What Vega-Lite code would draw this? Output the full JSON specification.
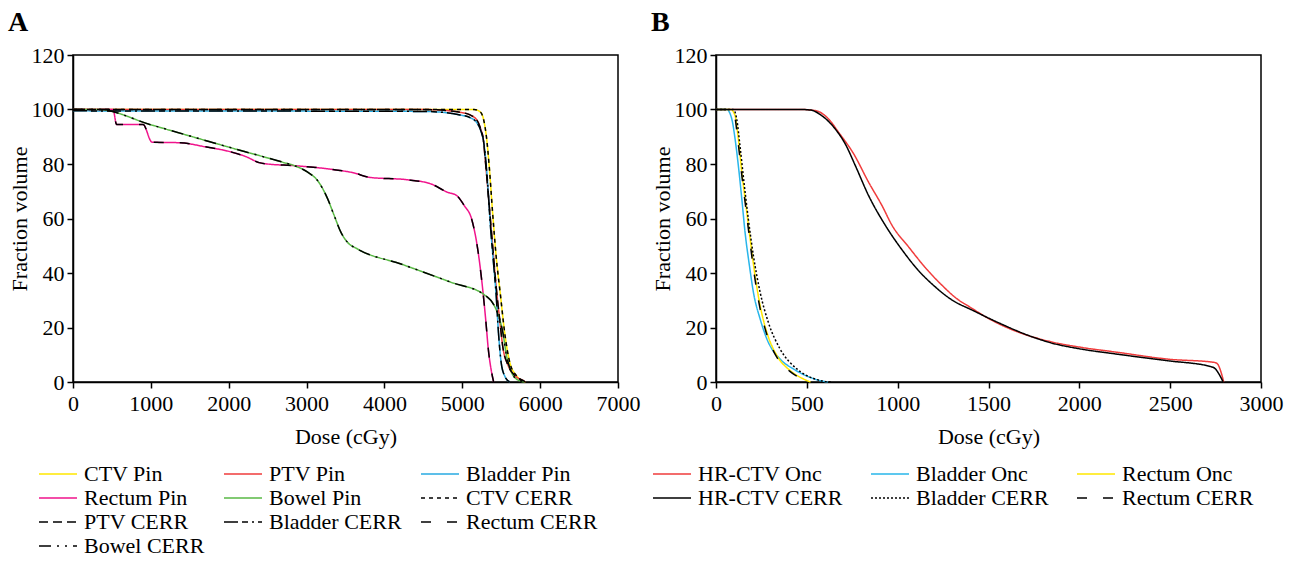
{
"$schema": "https://vega.github.io/schema/vega-lite/v6.json",
"padding": {"left": 7, "top": 8, "right": 5, "bottom": 0},
"background": "white",
"spacing": 9,
"config": {
  "font": "Liberation Serif",
  "view": {"stroke": "#000", "strokeWidth": 1.5},
  "axis": {"grid": false, "domainColor": "#000", "domainWidth": 1.5, "tickColor": "#000", "tickWidth": 1.5, "tickSize": 6, "format": "d", "labelFlush": false,
    "labelFont": "Liberation Serif", "labelFontSize": 22, "labelColor": "#000",
    "titleFont": "Liberation Serif", "titleFontSize": 22, "titleFontWeight": "normal", "titleColor": "#000"},
  "axisX": {"titlePadding": 12, "labelPadding": 5},
  "axisY": {"titlePadding": 0, "labelPadding": 3},
  "title": {"font": "Liberation Serif", "fontSize": 28, "fontWeight": "bold", "color": "#000", "anchor": "start", "frame": "bounds", "offset": 7},
  "line": {"strokeWidth": 1.5, "interpolate": "monotone"}
},
"resolve": {"scale": {"color": "independent", "strokeDash": "independent"}, "legend": {"color": "independent", "strokeDash": "independent"}},
"hconcat": [
{
  "width": 545, "height": 327,
  "title": {"text": "A"},
  "data": {"values": [
{"s":"CTV Pin","d":0,"v":100},{"s":"CTV Pin","d":5050,"v":100},{"s":"CTV Pin","d":5150,"v":100},{"s":"CTV Pin","d":5235,"v":99},{"s":"CTV Pin","d":5280,"v":95.5},{"s":"CTV Pin","d":5310,"v":90},{"s":"CTV Pin","d":5345,"v":79.5},{"s":"CTV Pin","d":5389,"v":62.3},{"s":"CTV Pin","d":5434,"v":46.4},{"s":"CTV Pin","d":5491,"v":31.7},{"s":"CTV Pin","d":5544,"v":18.2},{"s":"CTV Pin","d":5611,"v":7.1},{"s":"CTV Pin","d":5699,"v":2.2},{"s":"CTV Pin","d":5810,"v":0},
{"s":"CTV CERR","d":0,"v":100},{"s":"CTV CERR","d":5050,"v":100},{"s":"CTV CERR","d":5150,"v":100},{"s":"CTV CERR","d":5235,"v":99},{"s":"CTV CERR","d":5280,"v":95.5},{"s":"CTV CERR","d":5310,"v":90},{"s":"CTV CERR","d":5345,"v":79.5},{"s":"CTV CERR","d":5389,"v":62.3},{"s":"CTV CERR","d":5434,"v":46.4},{"s":"CTV CERR","d":5491,"v":31.7},{"s":"CTV CERR","d":5544,"v":18.2},{"s":"CTV CERR","d":5611,"v":7.1},{"s":"CTV CERR","d":5699,"v":2.2},{"s":"CTV CERR","d":5810,"v":0},
{"s":"PTV Pin","d":0,"v":100},{"s":"PTV Pin","d":4500,"v":100},{"s":"PTV Pin","d":4800,"v":99.6},{"s":"PTV Pin","d":4970,"v":99},{"s":"PTV Pin","d":5100,"v":98},{"s":"PTV Pin","d":5190,"v":96},{"s":"PTV Pin","d":5235,"v":93},{"s":"PTV Pin","d":5270,"v":89},{"s":"PTV Pin","d":5300,"v":80},{"s":"PTV Pin","d":5345,"v":65},{"s":"PTV Pin","d":5390,"v":50},{"s":"PTV Pin","d":5435,"v":35},{"s":"PTV Pin","d":5480,"v":23},{"s":"PTV Pin","d":5520,"v":13},{"s":"PTV Pin","d":5590,"v":6},{"s":"PTV Pin","d":5680,"v":2.2},{"s":"PTV Pin","d":5790,"v":0.4},{"s":"PTV Pin","d":5810,"v":0},
{"s":"PTV CERR","d":0,"v":100},{"s":"PTV CERR","d":4500,"v":100},{"s":"PTV CERR","d":4800,"v":99.6},{"s":"PTV CERR","d":4970,"v":99},{"s":"PTV CERR","d":5100,"v":98},{"s":"PTV CERR","d":5190,"v":96},{"s":"PTV CERR","d":5235,"v":93},{"s":"PTV CERR","d":5270,"v":89},{"s":"PTV CERR","d":5300,"v":80},{"s":"PTV CERR","d":5345,"v":65},{"s":"PTV CERR","d":5390,"v":50},{"s":"PTV CERR","d":5435,"v":35},{"s":"PTV CERR","d":5480,"v":23},{"s":"PTV CERR","d":5520,"v":13},{"s":"PTV CERR","d":5590,"v":6},{"s":"PTV CERR","d":5680,"v":2.2},{"s":"PTV CERR","d":5790,"v":0.4},{"s":"PTV CERR","d":5810,"v":0},
{"s":"Bladder Pin","d":0,"v":99.5},{"s":"Bladder Pin","d":4500,"v":99.3},{"s":"Bladder Pin","d":4800,"v":98.8},{"s":"Bladder Pin","d":4970,"v":98},{"s":"Bladder Pin","d":5100,"v":97},{"s":"Bladder Pin","d":5190,"v":95},{"s":"Bladder Pin","d":5235,"v":92.5},{"s":"Bladder Pin","d":5280,"v":87},{"s":"Bladder Pin","d":5320,"v":75},{"s":"Bladder Pin","d":5365,"v":56},{"s":"Bladder Pin","d":5400,"v":44},{"s":"Bladder Pin","d":5435,"v":32},{"s":"Bladder Pin","d":5465,"v":18},{"s":"Bladder Pin","d":5500,"v":7},{"s":"Bladder Pin","d":5545,"v":2.2},{"s":"Bladder Pin","d":5610,"v":0},
{"s":"Bladder CERR","d":0,"v":99.5},{"s":"Bladder CERR","d":4500,"v":99.3},{"s":"Bladder CERR","d":4800,"v":98.8},{"s":"Bladder CERR","d":4970,"v":98},{"s":"Bladder CERR","d":5100,"v":97},{"s":"Bladder CERR","d":5190,"v":95},{"s":"Bladder CERR","d":5235,"v":92.5},{"s":"Bladder CERR","d":5280,"v":87},{"s":"Bladder CERR","d":5320,"v":75},{"s":"Bladder CERR","d":5365,"v":56},{"s":"Bladder CERR","d":5400,"v":44},{"s":"Bladder CERR","d":5435,"v":32},{"s":"Bladder CERR","d":5465,"v":18},{"s":"Bladder CERR","d":5500,"v":7},{"s":"Bladder CERR","d":5545,"v":2.2},{"s":"Bladder CERR","d":5610,"v":0},
{"s":"Rectum Pin","d":0,"v":100},{"s":"Rectum Pin","d":514,"v":100},{"s":"Rectum Pin","d":560,"v":94.5},{"s":"Rectum Pin","d":900,"v":94.5},{"s":"Rectum Pin","d":1015,"v":88},{"s":"Rectum Pin","d":1375,"v":87.8},{"s":"Rectum Pin","d":1700,"v":86.3},{"s":"Rectum Pin","d":2020,"v":84.5},{"s":"Rectum Pin","d":2230,"v":82.6},{"s":"Rectum Pin","d":2390,"v":80.5},{"s":"Rectum Pin","d":2500,"v":80},{"s":"Rectum Pin","d":2842,"v":79.4},{"s":"Rectum Pin","d":3356,"v":77.9},{"s":"Rectum Pin","d":3613,"v":76.7},{"s":"Rectum Pin","d":3806,"v":75.1},{"s":"Rectum Pin","d":4298,"v":74.2},{"s":"Rectum Pin","d":4598,"v":72.7},{"s":"Rectum Pin","d":4812,"v":69.6},{"s":"Rectum Pin","d":4919,"v":68.6},{"s":"Rectum Pin","d":5026,"v":64.7},{"s":"Rectum Pin","d":5120,"v":59.8},{"s":"Rectum Pin","d":5198,"v":48.8},{"s":"Rectum Pin","d":5262,"v":34.1},{"s":"Rectum Pin","d":5304,"v":21.9},{"s":"Rectum Pin","d":5334,"v":12.1},{"s":"Rectum Pin","d":5369,"v":4.8},{"s":"Rectum Pin","d":5403,"v":0},
{"s":"Rectum CERR","d":0,"v":100},{"s":"Rectum CERR","d":514,"v":100},{"s":"Rectum CERR","d":560,"v":94.5},{"s":"Rectum CERR","d":900,"v":94.5},{"s":"Rectum CERR","d":1015,"v":88},{"s":"Rectum CERR","d":1375,"v":87.8},{"s":"Rectum CERR","d":1700,"v":86.3},{"s":"Rectum CERR","d":2020,"v":84.5},{"s":"Rectum CERR","d":2230,"v":82.6},{"s":"Rectum CERR","d":2390,"v":80.5},{"s":"Rectum CERR","d":2500,"v":80},{"s":"Rectum CERR","d":2842,"v":79.4},{"s":"Rectum CERR","d":3356,"v":77.9},{"s":"Rectum CERR","d":3613,"v":76.7},{"s":"Rectum CERR","d":3806,"v":75.1},{"s":"Rectum CERR","d":4298,"v":74.2},{"s":"Rectum CERR","d":4598,"v":72.7},{"s":"Rectum CERR","d":4812,"v":69.6},{"s":"Rectum CERR","d":4919,"v":68.6},{"s":"Rectum CERR","d":5026,"v":64.7},{"s":"Rectum CERR","d":5120,"v":59.8},{"s":"Rectum CERR","d":5198,"v":48.8},{"s":"Rectum CERR","d":5262,"v":34.1},{"s":"Rectum CERR","d":5304,"v":21.9},{"s":"Rectum CERR","d":5334,"v":12.1},{"s":"Rectum CERR","d":5369,"v":4.8},{"s":"Rectum CERR","d":5403,"v":0},
{"s":"Bowel Pin","d":0,"v":100},{"s":"Bowel Pin","d":320,"v":100},{"s":"Bowel Pin","d":1000,"v":94.4},{"s":"Bowel Pin","d":2000,"v":86.2},{"s":"Bowel Pin","d":2700,"v":80.6},{"s":"Bowel Pin","d":2842,"v":79.4},{"s":"Bowel Pin","d":3014,"v":77},{"s":"Bowel Pin","d":3142,"v":73.9},{"s":"Bowel Pin","d":3271,"v":67.2},{"s":"Bowel Pin","d":3356,"v":61},{"s":"Bowel Pin","d":3442,"v":54.9},{"s":"Bowel Pin","d":3528,"v":51.2},{"s":"Bowel Pin","d":3656,"v":48.8},{"s":"Bowel Pin","d":4213,"v":43.3},{"s":"Bowel Pin","d":4855,"v":36.6},{"s":"Bowel Pin","d":5283,"v":32},{"s":"Bowel Pin","d":5411,"v":28},{"s":"Bowel Pin","d":5475,"v":23.5},{"s":"Bowel Pin","d":5522,"v":18},{"s":"Bowel Pin","d":5566,"v":10},{"s":"Bowel Pin","d":5633,"v":3.5},{"s":"Bowel Pin","d":5700,"v":1},{"s":"Bowel Pin","d":5800,"v":0},
{"s":"Bowel CERR","d":0,"v":100},{"s":"Bowel CERR","d":320,"v":100},{"s":"Bowel CERR","d":1000,"v":94.4},{"s":"Bowel CERR","d":2000,"v":86.2},{"s":"Bowel CERR","d":2700,"v":80.6},{"s":"Bowel CERR","d":2842,"v":79.4},{"s":"Bowel CERR","d":3014,"v":77},{"s":"Bowel CERR","d":3142,"v":73.9},{"s":"Bowel CERR","d":3271,"v":67.2},{"s":"Bowel CERR","d":3356,"v":61},{"s":"Bowel CERR","d":3442,"v":54.9},{"s":"Bowel CERR","d":3528,"v":51.2},{"s":"Bowel CERR","d":3656,"v":48.8},{"s":"Bowel CERR","d":4213,"v":43.3},{"s":"Bowel CERR","d":4855,"v":36.6},{"s":"Bowel CERR","d":5283,"v":32},{"s":"Bowel CERR","d":5411,"v":28},{"s":"Bowel CERR","d":5475,"v":23.5},{"s":"Bowel CERR","d":5522,"v":18},{"s":"Bowel CERR","d":5566,"v":10},{"s":"Bowel CERR","d":5633,"v":3.5},{"s":"Bowel CERR","d":5700,"v":1},{"s":"Bowel CERR","d":5800,"v":0}
  ]},
  "encoding": {
    "x": {"field": "d", "type": "quantitative", "scale": {"domain": [0, 7000], "nice": false}, "axis": {"values": [0,1000,2000,3000,4000,5000,6000,7000], "title": "Dose (cGy)"}},
    "y": {"field": "v", "type": "quantitative", "scale": {"domain": [0, 120], "nice": false}, "axis": {"values": [0,20,40,60,80,100,120], "title": "Fraction volume"}},
    "color": {"field": "s", "type": "nominal",
      "scale": {"domain": ["CTV Pin","PTV Pin","Bladder Pin","Rectum Pin","Bowel Pin","CTV CERR","PTV CERR","Bladder CERR","Rectum CERR","Bowel CERR"],
                "range": ["#ffe800","#f03c3c","#29aae2","#f0148c","#5ab946","#000000","#000000","#000000","#000000","#000000"]},
      "legend": {"orient": "none", "direction": "horizontal", "legendX": -26, "legendY": 408, "columns": 3, "title": null, "symbolType": "M-1.9,0H1.9", "symbolSize": 400, "symbolStrokeWidth": 2, "labelFont": "Liberation Serif", "labelFontSize": 22, "labelColor": "#000", "labelOffset": 15, "rowPadding": 2, "columnPadding": 16, "labelLimit": 300}},
    "strokeDash": {"field": "s", "type": "nominal",
      "scale": {"domain": ["CTV Pin","PTV Pin","Bladder Pin","Rectum Pin","Bowel Pin","CTV CERR","PTV CERR","Bladder CERR","Rectum CERR","Bowel CERR"],
                "range": [[1,0],[1,0],[1,0],[1,0],[1,0],[4,4],[9,5],[14,4,6,4,2,4],[10,16],[12,6,2,6,2,6]]},
      "legend": {"orient": "none", "direction": "horizontal", "legendX": -26, "legendY": 408, "columns": 3, "title": null, "symbolType": "M-1.9,0H1.9", "symbolSize": 400, "symbolStrokeWidth": 2, "labelFont": "Liberation Serif", "labelFontSize": 22, "labelColor": "#000", "labelOffset": 15, "rowPadding": 2, "columnPadding": 16, "labelLimit": 300}}
  },
  "layer": [
    {"transform": [{"filter": "indexof(datum.s, 'CERR') < 0"}], "mark": {"type": "line"}},
    {"transform": [{"filter": "indexof(datum.s, 'CERR') >= 0"}], "mark": {"type": "line"}}
  ]
},
{
  "width": 545, "height": 327,
  "title": {"text": "B"},
  "data": {"values": [
{"t":"HR-CTV Onc","d":0,"v":100},{"t":"HR-CTV Onc","d":470,"v":100},{"t":"HR-CTV Onc","d":547,"v":99.6},{"t":"HR-CTV Onc","d":620,"v":96.5},{"t":"HR-CTV Onc","d":675,"v":91.6},{"t":"HR-CTV Onc","d":758,"v":83.7},{"t":"HR-CTV Onc","d":840,"v":73.3},{"t":"HR-CTV Onc","d":914,"v":64.7},{"t":"HR-CTV Onc","d":969,"v":57.5},{"t":"HR-CTV Onc","d":1061,"v":49.5},{"t":"HR-CTV Onc","d":1152,"v":42},{"t":"HR-CTV Onc","d":1244,"v":35.5},{"t":"HR-CTV Onc","d":1327,"v":30.5},{"t":"HR-CTV Onc","d":1400,"v":27.4},{"t":"HR-CTV Onc","d":1514,"v":22.8},{"t":"HR-CTV Onc","d":1652,"v":18.6},{"t":"HR-CTV Onc","d":1842,"v":14.8},{"t":"HR-CTV Onc","d":2021,"v":12.6},{"t":"HR-CTV Onc","d":2210,"v":10.9},{"t":"HR-CTV Onc","d":2486,"v":8.4},{"t":"HR-CTV Onc","d":2743,"v":7.2},{"t":"HR-CTV Onc","d":2762,"v":6.5},{"t":"HR-CTV Onc","d":2780,"v":3.6},{"t":"HR-CTV Onc","d":2795,"v":0},
{"t":"HR-CTV CERR","d":0,"v":100},{"t":"HR-CTV CERR","d":470,"v":100},{"t":"HR-CTV CERR","d":520,"v":99.8},{"t":"HR-CTV CERR","d":583,"v":97.7},{"t":"HR-CTV CERR","d":657,"v":92.8},{"t":"HR-CTV CERR","d":712,"v":87.3},{"t":"HR-CTV CERR","d":767,"v":79.4},{"t":"HR-CTV CERR","d":840,"v":68.4},{"t":"HR-CTV CERR","d":932,"v":57.5},{"t":"HR-CTV CERR","d":1024,"v":48.5},{"t":"HR-CTV CERR","d":1116,"v":40.8},{"t":"HR-CTV CERR","d":1207,"v":34.9},{"t":"HR-CTV CERR","d":1290,"v":30.5},{"t":"HR-CTV CERR","d":1422,"v":26},{"t":"HR-CTV CERR","d":1560,"v":21.6},{"t":"HR-CTV CERR","d":1744,"v":16.5},{"t":"HR-CTV CERR","d":1842,"v":14.4},{"t":"HR-CTV CERR","d":2000,"v":12.2},{"t":"HR-CTV CERR","d":2210,"v":10.2},{"t":"HR-CTV CERR","d":2486,"v":7.8},{"t":"HR-CTV CERR","d":2721,"v":5.7},{"t":"HR-CTV CERR","d":2748,"v":4.9},{"t":"HR-CTV CERR","d":2767,"v":3.1},{"t":"HR-CTV CERR","d":2792,"v":0},
{"t":"Bladder Onc","d":0,"v":100},{"t":"Bladder Onc","d":59,"v":100},{"t":"Bladder Onc","d":87,"v":96.5},{"t":"Bladder Onc","d":105,"v":89.2},{"t":"Bladder Onc","d":123,"v":79.4},{"t":"Bladder Onc","d":142,"v":67.2},{"t":"Bladder Onc","d":160,"v":54.9},{"t":"Bladder Onc","d":184,"v":42.7},{"t":"Bladder Onc","d":206,"v":32.9},{"t":"Bladder Onc","d":243,"v":23.1},{"t":"Bladder Onc","d":280,"v":15.8},{"t":"Bladder Onc","d":353,"v":8.4},{"t":"Bladder Onc","d":426,"v":4.8},{"t":"Bladder Onc","d":518,"v":1.7},{"t":"Bladder Onc","d":574,"v":0.5},{"t":"Bladder Onc","d":615,"v":0},
{"t":"Bladder CERR","d":0,"v":100},{"t":"Bladder CERR","d":95,"v":100},{"t":"Bladder CERR","d":114,"v":96.5},{"t":"Bladder CERR","d":132,"v":86.7},{"t":"Bladder CERR","d":154,"v":73.3},{"t":"Bladder CERR","d":178,"v":59.8},{"t":"Bladder CERR","d":206,"v":46.3},{"t":"Bladder CERR","d":243,"v":32.9},{"t":"Bladder CERR","d":288,"v":21.9},{"t":"Bladder CERR","d":353,"v":12.1},{"t":"Bladder CERR","d":445,"v":4.8},{"t":"Bladder CERR","d":537,"v":1.3},{"t":"Bladder CERR","d":592,"v":0.3},{"t":"Bladder CERR","d":640,"v":0},
{"t":"Rectum Onc","d":0,"v":100},{"t":"Rectum Onc","d":81,"v":100},{"t":"Rectum Onc","d":105,"v":97.7},{"t":"Rectum Onc","d":123,"v":89.2},{"t":"Rectum Onc","d":142,"v":77},{"t":"Rectum Onc","d":165,"v":64.7},{"t":"Rectum Onc","d":188,"v":52.5},{"t":"Rectum Onc","d":215,"v":39},{"t":"Rectum Onc","d":243,"v":28},{"t":"Rectum Onc","d":280,"v":18.2},{"t":"Rectum Onc","d":335,"v":9.7},{"t":"Rectum Onc","d":408,"v":4.2},{"t":"Rectum Onc","d":482,"v":1.1},{"t":"Rectum Onc","d":520,"v":0},
{"t":"Rectum CERR","d":0,"v":100},{"t":"Rectum CERR","d":78,"v":100},{"t":"Rectum CERR","d":102,"v":97.7},{"t":"Rectum CERR","d":120,"v":89},{"t":"Rectum CERR","d":140,"v":77},{"t":"Rectum CERR","d":163,"v":64.5},{"t":"Rectum CERR","d":186,"v":52},{"t":"Rectum CERR","d":213,"v":38.5},{"t":"Rectum CERR","d":241,"v":27.5},{"t":"Rectum CERR","d":278,"v":17.8},{"t":"Rectum CERR","d":333,"v":9.3},{"t":"Rectum CERR","d":405,"v":4},{"t":"Rectum CERR","d":478,"v":1},{"t":"Rectum CERR","d":510,"v":0}
  ]},
  "encoding": {
    "x": {"field": "d", "type": "quantitative", "scale": {"domain": [0, 3000], "nice": false}, "axis": {"values": [0,500,1000,1500,2000,2500,3000], "title": "Dose (cGy)"}},
    "y": {"field": "v", "type": "quantitative", "scale": {"domain": [0, 120], "nice": false}, "axis": {"values": [0,20,40,60,80,100,120], "title": "Fraction volume"}},
    "color": {"field": "t", "type": "nominal",
      "scale": {"domain": ["HR-CTV Onc","Bladder Onc","Rectum Onc","HR-CTV CERR","Bladder CERR","Rectum CERR"],
                "range": ["#f03c3c","#29b6ea","#ffe800","#000000","#000000","#000000"]},
      "legend": {"orient": "none", "direction": "horizontal", "legendX": -55, "legendY": 408, "columns": 3, "title": null, "symbolType": "M-1.9,0H1.9", "symbolSize": 400, "symbolStrokeWidth": 2, "labelFont": "Liberation Serif", "labelFontSize": 22, "labelColor": "#000", "labelOffset": 15, "rowPadding": 2, "columnPadding": 25, "labelLimit": 300}},
    "strokeDash": {"field": "t", "type": "nominal",
      "scale": {"domain": ["HR-CTV Onc","Bladder Onc","Rectum Onc","HR-CTV CERR","Bladder CERR","Rectum CERR"],
                "range": [[1,0],[1,0],[1,0],[1,0],[2,2],[10,16]]},
      "legend": {"orient": "none", "direction": "horizontal", "legendX": -55, "legendY": 408, "columns": 3, "title": null, "symbolType": "M-1.9,0H1.9", "symbolSize": 400, "symbolStrokeWidth": 2, "labelFont": "Liberation Serif", "labelFontSize": 22, "labelColor": "#000", "labelOffset": 15, "rowPadding": 2, "columnPadding": 25, "labelLimit": 300}}
  },
  "layer": [
    {"transform": [{"filter": "indexof(datum.t, 'CERR') < 0"}], "mark": {"type": "line"}},
    {"transform": [{"filter": "indexof(datum.t, 'CERR') >= 0"}], "mark": {"type": "line"}}
  ]
}
]
}
